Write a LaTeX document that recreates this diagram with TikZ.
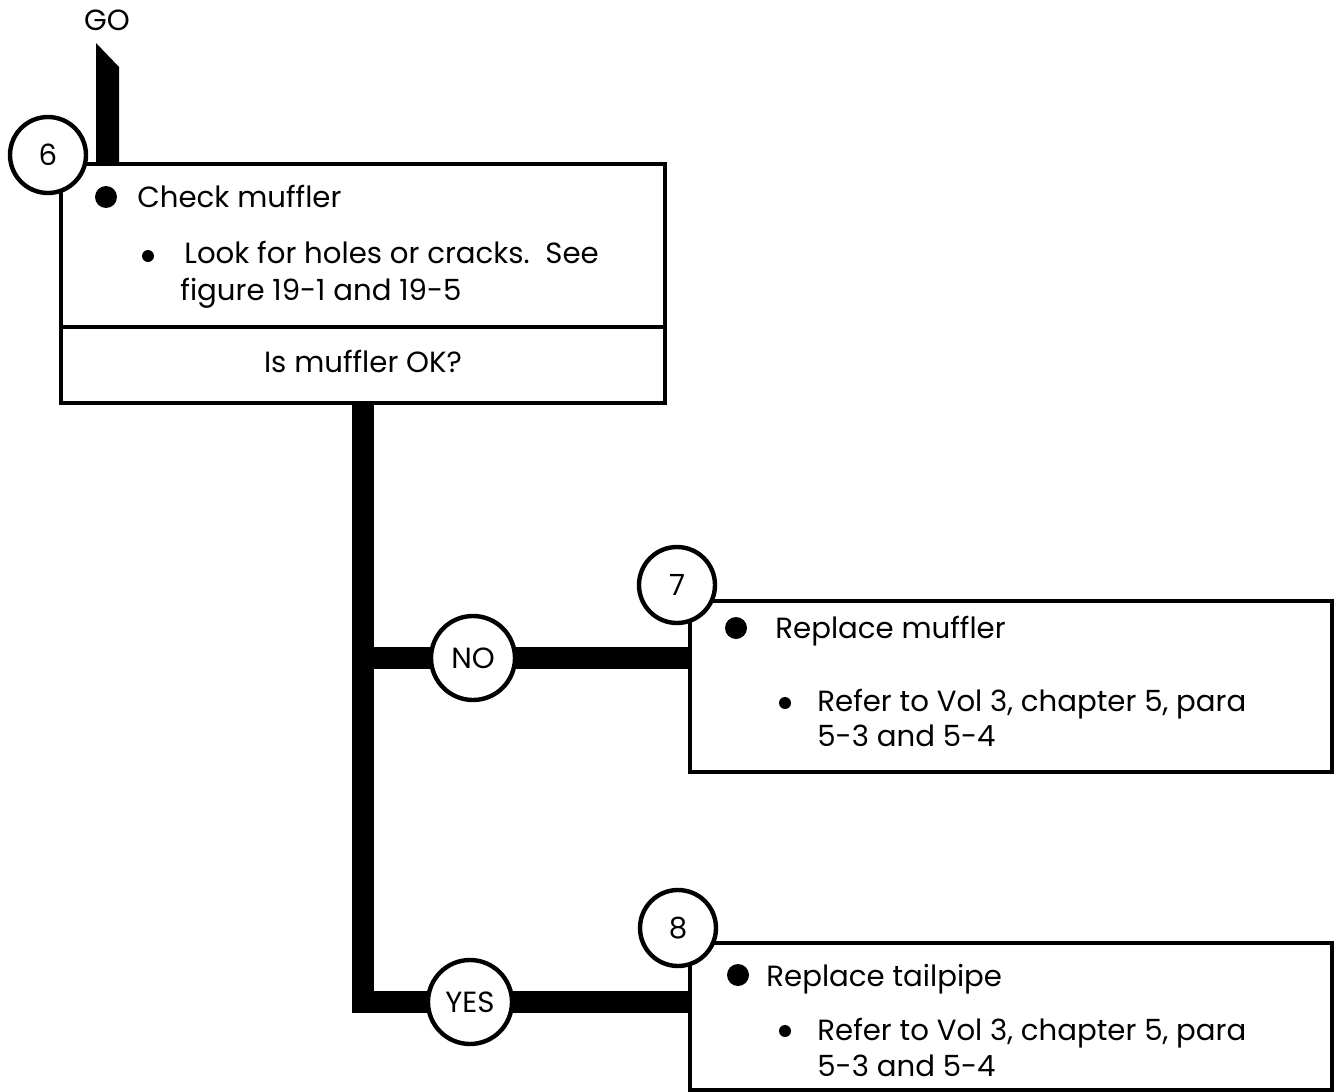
\documentclass[tikz,border=0pt]{standalone}
\usepackage{fontspec}
\setmainfont{Poppins}
\usetikzlibrary{positioning, backgrounds}

\begin{document}
\begin{tikzpicture}[
    x=0.5pt, y=-0.5pt,
    font=\fontsize{14.6}{17}\selectfont,
    stepbox/.style={rectangle, draw, line width=1.6pt, inner sep=0pt},
    numcircle/.style={circle, draw, line width=2.2pt, fill=white, minimum size=38pt, inner sep=0pt},
    answer/.style={circle, draw, line width=2.2pt, fill=white, minimum size=42pt, inner sep=0pt},
    bigdot/.style={circle, fill, minimum size=11pt, inner sep=0pt},
    smalldot/.style={circle, fill, minimum size=6pt, inner sep=0pt},
    txt/.style={anchor=base west, inner sep=0pt},
    bar/.style={line width=11pt, line join=miter}
]
\useasboundingbox (0,0) rectangle (1335,1092);

% step 6
\node[stepbox, minimum width=302pt, minimum height=119.5pt] (box6) at (363,283.5) {};
\draw[line width=1.6pt] (box6.west |- 0,327) -- (box6.east |- 0,327);
\node[numcircle] (c6) at (48,155) {6};
\node (go) at (107,20) {GO};
\fill (96,43) -- (119,67) -- (119,164) -- (96,164) -- cycle;
\node[bigdot] (d6) at (106,197) {};
\node[txt] (t6) at (137,207) {Check muffler};
\node[smalldot] (s6) at (148,256) {};
\node[txt] (t6a) at (184,263) {Look for holes or cracks.\ \ See};
\node[txt] (t6b) at (180,300) {figure 19-1 and 19-5};
\node[anchor=base] (q6) at (363,372) {Is muffler OK?};

% step 7
\node[stepbox, minimum width=321pt, minimum height=85.5pt] (box7) at (1011,686.5) {};
\node[numcircle] (c7) at (677,585) {7};
\node[bigdot] (d7) at (736,628) {};
\node[txt] (t7) at (775,638) {Replace muffler};
\node[smalldot] (s7) at (785,703) {};
\node[txt] (t7a) at (817,711) {Refer to Vol 3, chapter 5, para};
\node[txt] (t7b) at (817,746) {5-3 and 5-4};

% step 8
\node[stepbox, minimum width=321pt, minimum height=73.5pt] (box8) at (1011,1016.5) {};
\node[numcircle] (c8) at (678,928) {8};
\node[bigdot] (d8) at (738,975) {};
\node[txt] (t8) at (766,986) {Replace tailpipe};
\node[smalldot] (s8) at (785,1031) {};
\node[txt] (t8a) at (817,1040) {Refer to Vol 3, chapter 5, para};
\node[txt] (t8b) at (817,1076) {5-3 and 5-4};

% answers
\node[answer] (no) at (473,658) {NO};
\node[answer] (yes) at (470,1002) {YES};

\begin{scope}[on background layer]
\draw[bar] (box6.south) -- (box6.south |- yes) -- (box8.west |- yes);
\draw[bar] (box6.south |- no) -- (box7.west |- no);
\end{scope}

\end{tikzpicture}
\end{document}
